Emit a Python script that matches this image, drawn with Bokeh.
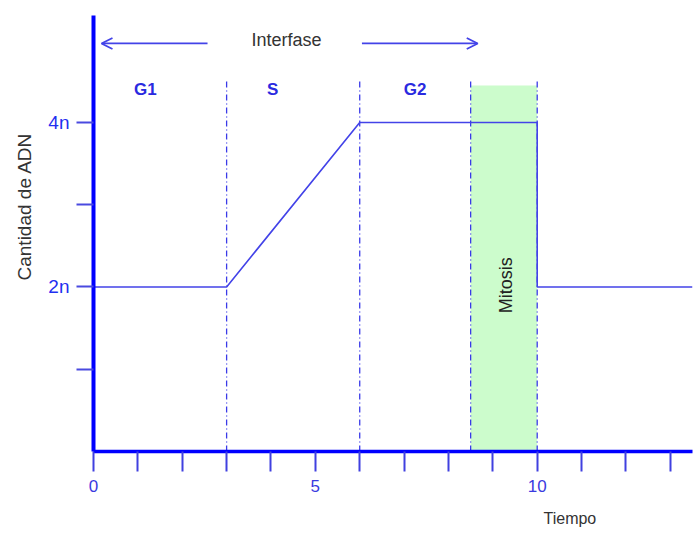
from bokeh.plotting import figure
from bokeh.models import Range1d, FixedTicker, Label, Arrow, OpenHead, Title
from bokeh.core.properties import value
from bokeh.embed import file_html
from bokeh.resources import INLINE

# ---- data ----
dna_time = [0, 3, 6, 10, 10, 13.5]
dna_amount = [2, 2, 4, 4, 2, 2]
phase_bounds = [3, 6, 8.5, 10]
phase_names = ["G1", "S", "G2"]
phase_centers = [1.17, 4.04, 7.25]
mitosis_start = 8.5
mitosis_end = 10
mitosis_top = 4.45
x_ticks = list(range(0, 14))
x_tick_labels = {0: "0", 5: "5", 10: "10"}
y_ticks = [1, 2, 3, 4]
y_tick_labels = {2: "2n", 4: "4n"}

BLUE = "#0000ff"
LINE = "#4343e8"
FONT = "Liberation Sans"

p = figure(width=700, height=540, output_backend="svg", toolbar_location=None,
           x_range=Range1d(0, 13.5), y_range=Range1d(0, 5.3),
           min_border_left=93, min_border_right=8, min_border_top=15, min_border_bottom=89)
p.outline_line_color = None
p.xgrid.visible = False
p.ygrid.visible = False
p.background_fill_color = "white"
p.border_fill_color = "white"

# mitosis band
p.quad(left=[mitosis_start], right=[mitosis_end], bottom=[0], top=[mitosis_top],
       fill_color="#ccfccc", line_color=None)

# phase boundary lines
p.segment(x0=phase_bounds, y0=[0] * 4, x1=phase_bounds, y1=[4.5] * 4,
          line_color="#3a3ae8", line_width=1.3, line_dash="6 3 1 3")

# DNA content line
p.line(dna_time, dna_amount, line_color=LINE, line_width=1.6)

# phase labels
p.text(x=phase_centers, y=[4.4] * 3, text=phase_names, text_align="center",
       text_baseline="middle", text_color="#2a2ae0", text_font=value(FONT),
       text_font_size="17px", text_font_style="bold")

# mitosis label
p.text(x=[9.3], y=[2.02], text=["Mitosis"], angle=1.5708,
       text_align="center", text_baseline="middle", text_color="#222222",
       text_font=value(FONT), text_font_size="18px")

# interfase arrows + label
p.add_layout(Arrow(end=OpenHead(size=11, line_color=LINE, line_width=1.8),
                   x_start=2.57, y_start=4.96, x_end=0.18, y_end=4.96,
                   line_color=LINE, line_width=1.8))
p.add_layout(Arrow(end=OpenHead(size=11, line_color=LINE, line_width=1.8),
                   x_start=6.05, y_start=4.96, x_end=8.66, y_end=4.96,
                   line_color=LINE, line_width=1.8))
p.add_layout(Label(x=4.35, y=5.0, text="Interfase", text_align="center",
                   text_baseline="middle", text_color="#333333",
                   text_font=FONT, text_font_size="18px"))

# x-axis
xa = p.xaxis[0]
xa.ticker = FixedTicker(ticks=x_ticks)
xa.major_label_overrides = {t: x_tick_labels.get(t, "") for t in x_ticks}
xa.axis_line_color = BLUE
xa.axis_line_width = 3.5
xa.major_tick_line_color = "#4040e0"
xa.major_tick_line_width = 2
xa.major_tick_out = 20
xa.major_tick_in = 0
xa.minor_tick_line_color = None
xa.major_label_text_color = "#3a3ae0"
xa.major_label_text_font = FONT
xa.major_label_text_font_size = "17px"
xa.major_label_standoff = 8

# y-axis
ya = p.yaxis[0]
ya.ticker = FixedTicker(ticks=y_ticks)
ya.major_label_overrides = {t: y_tick_labels.get(t, "") for t in y_ticks}
ya.axis_line_color = BLUE
ya.axis_line_width = 4
ya.major_tick_line_color = "#4a4ae0"
ya.major_tick_line_width = 2
ya.major_tick_out = 17
ya.major_tick_in = 0
ya.minor_tick_line_color = None
ya.major_label_text_color = "#1f2ff0"
ya.major_label_text_font = FONT
ya.major_label_text_font_size = "19px"
ya.major_label_standoff = 7

# axis titles placed off-centre, as in the original
p.add_layout(Title(text="Cantidad de ADN", align="left", offset=171,
                   text_color="#333333", text_font=FONT, text_font_size="19px",
                   text_font_style="normal", standoff=22), "left")
p.add_layout(Title(text="Tiempo", align="left", offset=450,
                   text_color="#333333", text_font=FONT, text_font_size="16px",
                   text_font_style="normal", standoff=26), "below")

open("out.html", "w").write(file_html(p, INLINE))
